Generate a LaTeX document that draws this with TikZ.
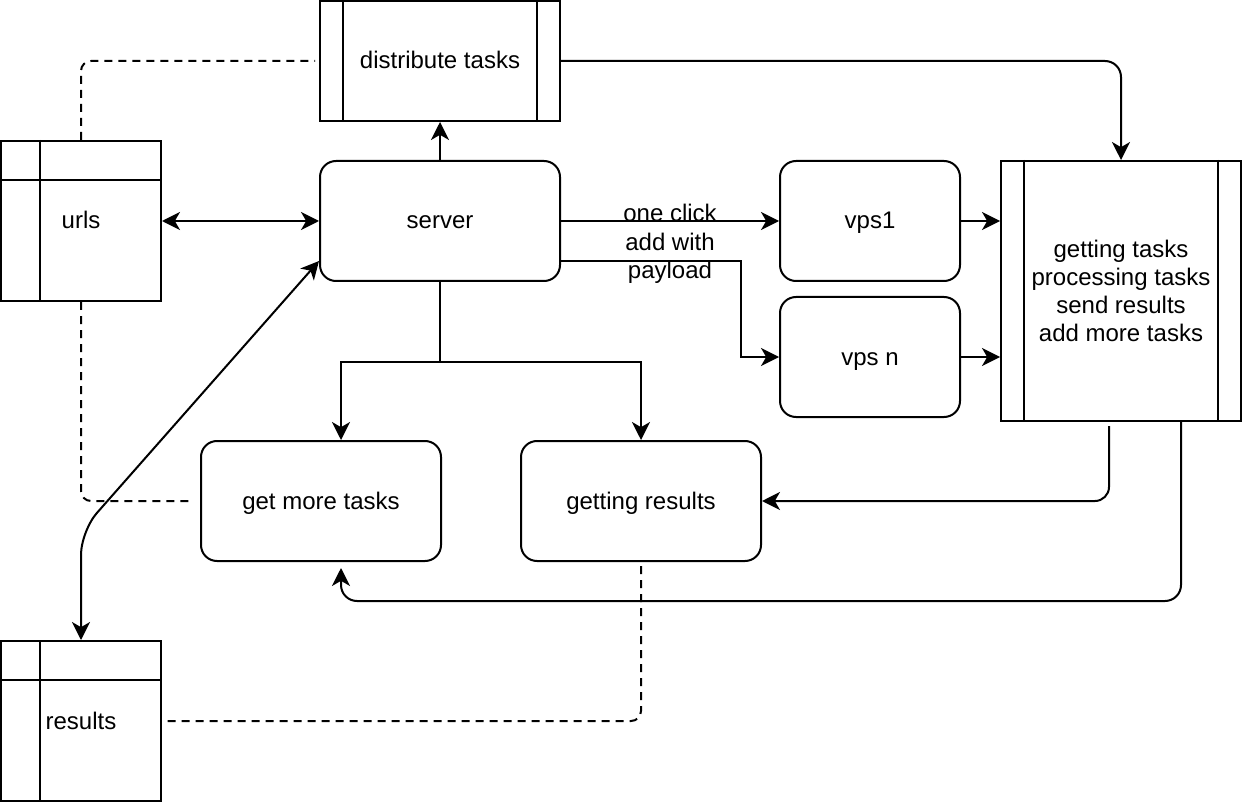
\documentclass[tikz,border=0pt]{standalone}
\usepackage{fontspec}
\setmainfont{Liberation Sans}
\usetikzlibrary{arrows.meta,calc}
\tikzset{
  base/.style={draw, line width=1pt, inner sep=0pt, align=center, font=\fontsize{12pt}{14pt}\selectfont},
  one/.style={text height=10.8pt, text depth=2.8pt},
  rbox/.style={base, one, rounded corners=8pt, minimum width=120pt, minimum height=60pt},
  pbox/.style={base, minimum width=120pt, minimum height=60pt},
  tbox/.style={base, one, minimum width=80pt, minimum height=80pt},
  conn/.style={line width=1pt, -{Stealth[length=9pt,width=9pt,inset=2.6pt]}},
  dconn/.style={line width=1pt, {Stealth[length=9pt,width=9pt,inset=2.6pt]}-{Stealth[length=9pt,width=9pt,inset=2.6pt]}},
  dashline/.style={line width=1pt, dash pattern=on 4pt off 3pt, rounded corners=5pt},
  inner/.style={line width=1pt},
  lbl/.style={align=center, font=\fontsize{12pt}{14.2pt}\selectfont, inner sep=0pt}
}
\begin{document}
\begin{tikzpicture}[x=0.5pt,y=-0.5pt]
\useasboundingbox (0,0) rectangle (1242,802);
% nodes
\node[pbox, one] (dist) at (440,61) {distribute tasks};
\node[tbox] (urls) at (81,221) {urls};
\node[rbox] (server) at (440,221) {server};
\node[rbox, minimum width=90pt] (vps1) at (870,221) {vps1};
\node[rbox, minimum width=90pt] (vpsn) at (870,357) {vps n};
\node[pbox, minimum height=130pt] (proc) at (1121,291) {getting tasks\\processing tasks\\send results\\add more tasks};
\node[rbox] (gmt) at (321,501) {get more tasks};
\node[rbox] (gr) at (641,501) {getting results};
\node[tbox] (results) at (81,721) {results};
% inner lines of process shapes
\draw[inner] ([xshift=12pt]dist.north west) -- ([xshift=12pt]dist.south west);
\draw[inner] ([xshift=-12pt]dist.north east) -- ([xshift=-12pt]dist.south east);
\draw[inner] ([xshift=12pt]proc.north west) -- ([xshift=12pt]proc.south west);
\draw[inner] ([xshift=-12pt]proc.north east) -- ([xshift=-12pt]proc.south east);
% table lines
\draw[inner] ([xshift=20pt]urls.north west) -- ([xshift=20pt]urls.south west);
\draw[inner] ([yshift=-20pt]urls.north west) -- ([yshift=-20pt]urls.north east);
\draw[inner] ([xshift=20pt]results.north west) -- ([xshift=20pt]results.south west);
\draw[inner] ([yshift=-20pt]results.north west) -- ([yshift=-20pt]results.north east);
% connectors
\draw[conn] (server.north) -- (dist.south);
\draw[dconn] (urls.east) -- (server.west);
\draw[conn, rounded corners=8pt] (dist.east) -| (proc.north);
\draw[conn] (server.east) -- (vps1.west);
\node[lbl] (lab) at (670,244) {one click\\add with\\payload};
\draw[conn] ([yshift=-20pt]server.east) -- ++(180,0) |- (vpsn.west);
\draw[conn] (vps1.east) -- (vps1.east -| proc.west);
\draw[conn] (vpsn.east) -- (vpsn.east -| proc.west);
\draw[line width=1pt] (server.south) -- ++(0,80) coordinate (sb);
\draw[conn] (sb) -| ([xshift=10pt]gmt.north);
\draw[conn] (sb) -| (gr.north);
\draw[conn, rounded corners=7pt] ([shift={(-12,4)}]proc.south) |- (gr.east);
\draw[conn, rounded corners=8pt, shorten >=3pt] ([xshift=30pt]proc.south) -- ++(0,179) -| ([xshift=10pt]gmt.south);
\draw[dashline] (urls.north) |- ([xshift=-2pt]dist.west);
\draw[dashline] (urls.south) |- ([xshift=-3pt]gmt.west);
\draw[dashline] ([yshift=-2pt]gr.south) |- (results.east);
\draw[dconn, rounded corners=12pt] (results.north) -- ++(0,-109) -- ([yshift=-20pt]server.west);
\end{tikzpicture}
\end{document}
